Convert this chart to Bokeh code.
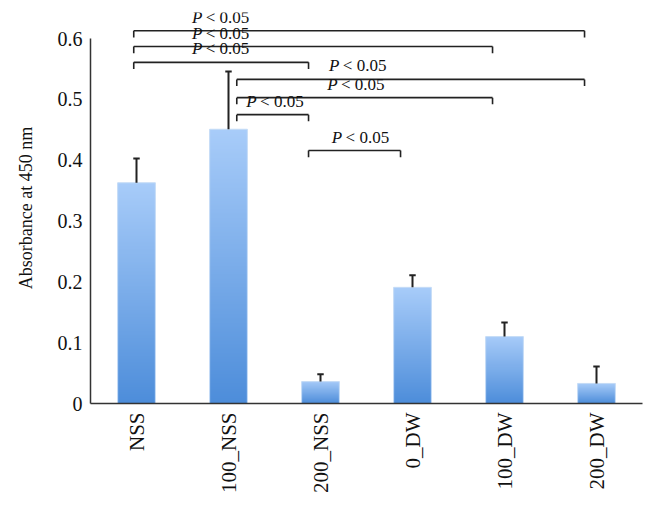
import numpy as np
from bokeh.plotting import figure
from bokeh.models import Range1d, FixedTicker, CustomJSTickFormatter
from bokeh.core.properties import value
from bokeh.embed import file_html
from bokeh.resources import INLINE

# ---- data ----
categories = ["NSS", "100_NSS", "200_NSS", "0_DW", "100_DW", "200_DW"]
absorbance = [0.363, 0.451, 0.036, 0.191, 0.110, 0.033]
error_up = [0.040, 0.095, 0.012, 0.020, 0.023, 0.028]
y_ticks = [0, 0.1, 0.2, 0.3, 0.4, 0.5, 0.6]

cmp_from = ["NSS", "NSS", "NSS", "100_NSS", "100_NSS", "100_NSS", "200_NSS"]
cmp_to = ["200_DW", "100_DW", "200_NSS", "200_DW", "100_DW", "200_NSS", "0_DW"]
cmp_level = [0.613, 0.587, 0.561, 0.533, 0.503, 0.475, 0.416]
cmp_label = ["P < 0.05"] * 7

# ---- layout helpers ----
left_shift = {"NSS": -0.03, "100_NSS": 0.09, "200_NSS": -0.13}
right_shift = -0.13
label_pos = [1.39, 1.39, 1.39, 2.88, 2.86, 1.98, 2.91]

idx = {c: i + 0.5 for i, c in enumerate(categories)}
xc = np.array([idx[c] for c in categories])

FONT = "Liberation Serif"

p = figure(width=644, height=497, output_backend="svg", toolbar_location=None,
           x_range=Range1d(0, 6), y_range=Range1d(0, 0.643),
           min_border_left=90, min_border_right=2, min_border_top=12,
           min_border_bottom=94)
p.outline_line_color = None
p.grid.grid_line_color = None
p.background_fill_color = "white"

# gradient bars as vertical gradient images
n = 256
bottom_rgb = np.array([0x4d, 0x8d, 0xda], dtype=float)
top_rgb = np.array([0xa8, 0xcc, 0xf9], dtype=float)
hw = 0.205
f = np.linspace(0, 1, n)
rgb = bottom_rgb[None, :] + (top_rgb - bottom_rgb)[None, :] * f[:, None]
img = np.zeros((n, 1), dtype=np.uint32)
view = img.view(dtype=np.uint8).reshape((n, 1, 4))
view[:, 0, 0] = rgb[:, 0].round().astype(np.uint8)
view[:, 0, 1] = rgb[:, 1].round().astype(np.uint8)
view[:, 0, 2] = rgb[:, 2].round().astype(np.uint8)
view[:, 0, 3] = 255
p.image_rgba(image=[img] * len(categories), x=list(xc - hw), y=[0] * len(categories),
             dw=[2 * hw] * len(categories), dh=absorbance)
p.quad(left=xc - hw, right=xc + hw, bottom=0, top=absorbance,
       fill_color=None, line_color="#c4dbf6", line_width=1)

# error bars (upper only)
tops = np.array(absorbance) + np.array(error_up)
p.segment(x0=xc, y0=absorbance, x1=xc, y1=tops, line_color="#222222", line_width=2)
p.segment(x0=xc - 0.035, y0=tops, x1=xc + 0.035, y1=tops, line_color="#222222", line_width=2)

# significance brackets
tick = 0.011
for a, b, y, lab, lx in zip(cmp_from, cmp_to, cmp_level, cmp_label, label_pos):
    x0 = idx[a] + left_shift[a]
    x1 = idx[b] + right_shift
    p.segment(x0=[x0, x0, x1], y0=[y, y, y], x1=[x1, x0, x1], y1=[y, y - tick, y - tick],
              line_color="#222222", line_width=1.6)
    pl, rest = lab.split(" ", 1)
    p.text(x=[lx], y=[y], text=[pl], x_offset=-16, y_offset=-4,
           text_align="right", text_baseline="bottom",
           text_font=value(FONT), text_font_style="italic",
           text_font_size="17px", text_color="#111111")
    p.text(x=[lx], y=[y], text=["\u2009" + rest], x_offset=-16, y_offset=-4,
           text_align="left", text_baseline="bottom",
           text_font=value(FONT), text_font_size="17px", text_color="#111111")

# axes
xa = p.xaxis[0]
xa.ticker = FixedTicker(ticks=list(xc))
xa.major_label_overrides = {float(x): c for x, c in zip(xc, categories)}
xa.major_label_orientation = np.pi / 2
xa.major_tick_line_color = None
xa.major_tick_out = 0
xa.major_tick_in = 0
xa.minor_tick_line_color = None
xa.major_label_standoff = 9
xa.major_label_text_font = FONT
xa.major_label_text_font_size = "21px"
xa.major_label_text_color = "#111111"
xa.axis_line_color = "#333333"
xa.axis_line_width = 1.5

ya = p.yaxis[0]
ya.ticker = FixedTicker(ticks=y_ticks)
ya.formatter = CustomJSTickFormatter(code="return tick == 0 ? '0' : tick.toFixed(1);")
ya.bounds = (0, 0.6)
ya.major_tick_line_color = None
ya.major_tick_out = 0
ya.major_tick_in = 0
ya.minor_tick_line_color = None
ya.major_label_standoff = 8
ya.major_label_text_font = FONT
ya.major_label_text_font_size = "20px"
ya.major_label_text_color = "#111111"
ya.axis_line_color = "#333333"
ya.axis_line_width = 1.5
ya.axis_label = "Absorbance at 450 nm"
ya.axis_label_text_font = FONT
ya.axis_label_text_font_style = "normal"
ya.axis_label_text_font_size = "18px"
ya.axis_label_text_color = "#111111"
ya.axis_label_standoff = 19

open("out.html", "w").write(file_html(p, INLINE))
